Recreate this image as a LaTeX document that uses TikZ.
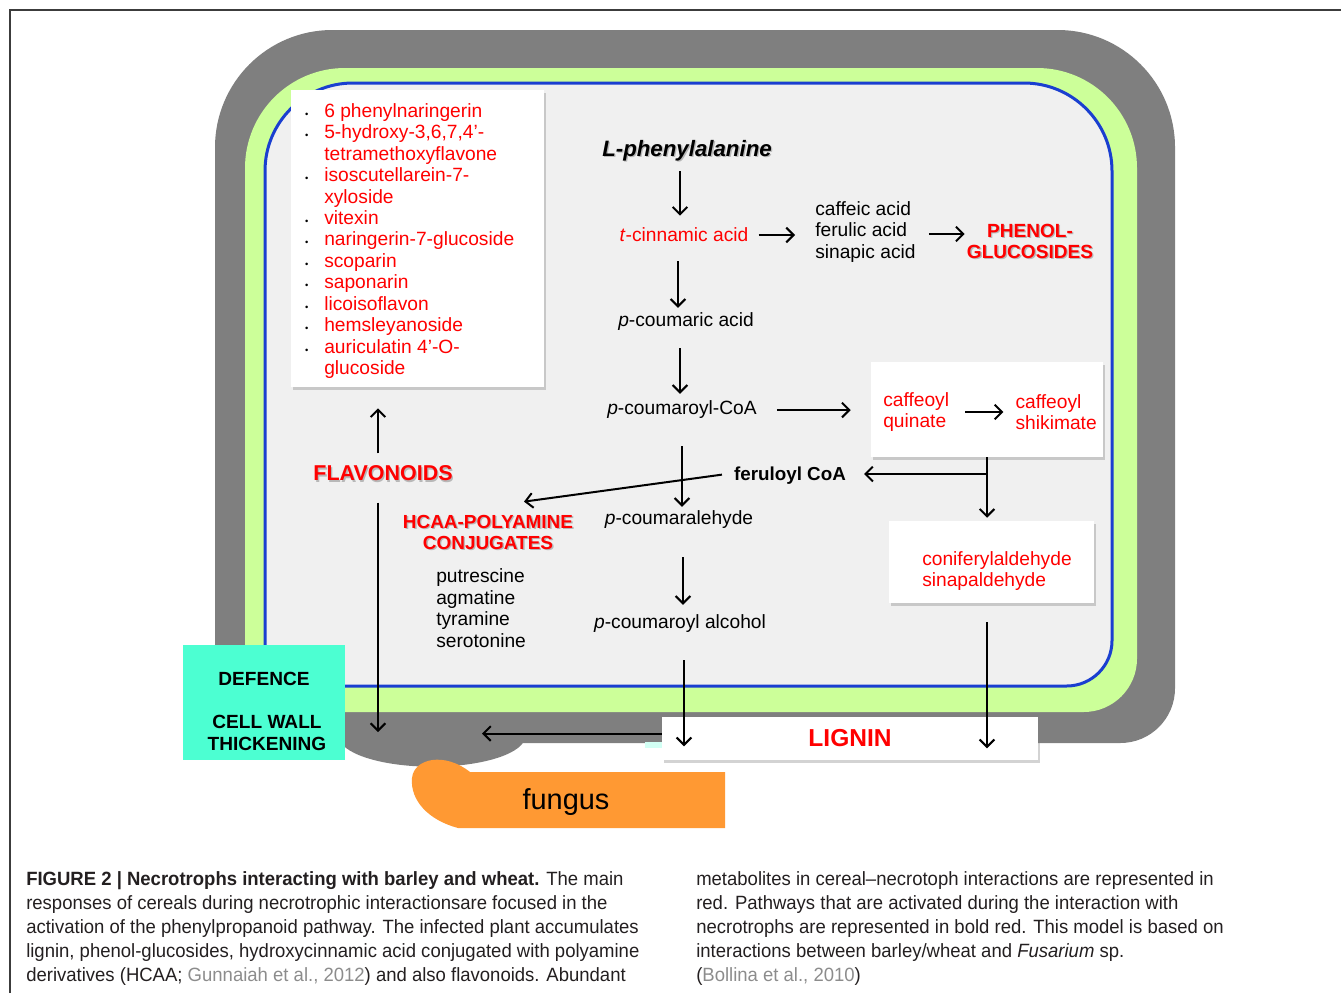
\documentclass[tikz,border=0pt]{standalone}
\usepackage{fontspec}
\setmainfont{Liberation Sans}
\newfontfamily\capfont[FakeStretch=0.964]{Liberation Sans}
\usetikzlibrary{arrows.meta,shadows,shapes.geometric,positioning,calc}

\definecolor{wallgray}{HTML}{7F7F7F}
\definecolor{wallgreen}{HTML}{CCFF99}
\definecolor{membblue}{HTML}{1A3FD0}
\definecolor{cytofill}{HTML}{F0F0F0}
\definecolor{defteal}{HTML}{4CFFD2}
\definecolor{fungorange}{HTML}{FF9933}
\definecolor{citegray}{HTML}{8C8C8C}
\definecolor{captext}{HTML}{231F20}
\definecolor{frameline}{HTML}{3C3C3C}

\newcommand{\txtsh}[1]{\rlap{\raisebox{-1pt}{\hspace{1pt}\textcolor{black!28}{#1}}}#1}
\newcommand{\blt}{\llap{\textcolor{black}{\fontsize{7}{7}\selectfont\textbullet}\hspace{12pt}}}

\tikzset{
	met/.style={inner sep=0pt, font=\fontsize{14.4}{16.1}\selectfont, align=left},
	redmet/.style={met, text=red},
	bigred/.style={inner sep=0pt, text=red, font=\bfseries\fontsize{14.3}{16.1}\selectfont, align=center},
	whitebox/.style={fill=white, inner sep=0pt, drop shadow={shadow xshift=1.5pt, shadow yshift=-2pt, opacity=0.35}},
	arr/.style={line width=1.5pt, -{Straight Barb[length=5.5pt,width=11pt]}},
}

\begin{document}
\begin{tikzpicture}[x=0.75pt,y=-0.75pt]
		\useasboundingbox (0,0) rectangle (1341,993);
		\draw[frameline, line width=1.2pt] (10,993) -- (10,10) -- (1341,10);
		%
		% cell wall, wall layer and membrane
		\fill[wallgray, rounded corners=88pt] (215,400) -- (215,30) -- (1175,30) -- (1175,400) [rounded corners=41pt] -- (1175,743) -- (215,743) -- cycle;
		\node[ellipse, fill=wallgray, minimum width=140pt, minimum height=46pt] (blob) at (432,736) {};
		\fill[wallgreen, rounded corners=75pt] (245,400) -- (245,68) -- (1137,68) -- (1137,400) [rounded corners=40pt] -- (1137,712) -- (245,712) -- cycle;
		\filldraw[fill=cytofill, draw=membblue, line width=2.25pt, rounded corners=66pt] (265,400) -- (265,83) -- (1112,83) -- (1112,400) [rounded corners=34pt] -- (1112,686) -- (265,686) -- cycle;
		%
		% defence and fungus
		\node[fill=defteal, minimum width=121.5pt, minimum height=86.25pt, inner sep=0pt] (defbox) at (264,702.5) {};
		\node[inner sep=0pt, font=\bfseries\fontsize{14.3}{16}\selectfont] (defence) at (264,679) {DEFENCE};
		\node[inner sep=0pt, align=center, font=\bfseries\fontsize{14.3}{16}\selectfont] (thick) at (267,733) {CELL WALL\\THICKENING};
		\fill[defteal!25] (645,742) rectangle (662,748);
		\node[whitebox, minimum width=282pt, minimum height=32.25pt, text=red, font=\bfseries\fontsize{18.4}{20}\selectfont] (lignin) at (850,738.5) {LIGNIN};
		\fill[fungorange] (470,772) -- (725,772) -- (725,828) -- (458,828) .. controls (428,820) and (410,800) .. (412,778) .. controls (414,758) and (445,752) .. (470,772) -- cycle;
		\node[inner sep=0pt, font=\fontsize{21.7}{24}\selectfont] (fungus) at (566,802) {fungus};
		%
		% flavonoids
		\node[whitebox, minimum width=189.75pt, minimum height=222.75pt] (flavbox) at (417.5,238.5) {};
		\node[redmet, anchor=north west] (flavlist) at (324,103) {\blt 6 phenylnaringerin\\\blt 5-hydroxy-3,6,7,4'-\\tetramethoxyflavone\\\blt isoscutellarein-7-\\xyloside\\\blt vitexin\\\blt naringerin-7-glucoside\\\blt scoparin\\\blt saponarin\\\blt licoisoflavon\\\blt hemsleyanoside\\\blt auriculatin 4'-O-\\glucoside};
		\node[bigred, font=\bfseries\fontsize{16.1}{18}\selectfont] (flav) at (383,474) {\txtsh{FLAVONOIDS}};
		%
		% phenylpropanoid pathway
		\node[met, font=\bfseries\itshape\fontsize{16.7}{18}\selectfont] (lphe) at (687,151) {\txtsh{L-phenylalanine}};
		\node[redmet] (tcin) at (684,235) {\textit{t}-cinnamic acid};
		\node[met, anchor=west] (acids) at (815,232) {caffeic acid\\ferulic acid\\sinapic acid};
		\node[bigred] (phenol) at (1030,242) {\txtsh{PHENOL-}\\\txtsh{GLUCOSIDES}};
		\node[met] (pcouac) at (686,322) {\textit{p}-coumaric acid};
		\node[met] (pcoucoa) at (682,410) {\textit{p}-coumaroyl-CoA};
		\node[whitebox, minimum width=174pt, minimum height=71.25pt] (caffbox) at (987,409.5) {};
		\node[redmet, anchor=west] (cquin) at (883,412) {caffeoyl\\quinate};
		\node[redmet, right=49.5pt of cquin] (cshik) {caffeoyl\\shikimate};
		\node[met, font=\bfseries\fontsize{14.1}{16}\selectfont] (ferul) at (790,476) {feruloyl CoA};
		\node[met] (pcoual) at (679,520) {\textit{p}-coumaralehyde};
		\node[bigred, font=\bfseries\fontsize{14.2}{16.1}\selectfont] (hcaa) at (488,533) {\txtsh{HCAA-POLYAMINE}\\\txtsh{CONJUGATES}};
		\node[met, anchor=west] (amines) at (436,608) {putrescine\\agmatine\\tyramine\\serotonine};
		\node[met] (pcoualc) at (680,624) {\textit{p}-coumaroyl alcohol};
		\node[whitebox, minimum width=153.75pt, minimum height=61.5pt] (conbox) at (991.5,562) {};
		\node[redmet, anchor=west] (conif) at (922,571) {coniferylaldehyde\\sinapaldehyde};
		%
		\draw[arr, shorten <=6.75pt, shorten >=9pt] ($(lphe.south)+(-7,0)$) -- ($(lphe.south |- tcin.north)+(-7,0)$);
		\draw[arr, shorten <=14.25pt, shorten >=3.75pt] ($(tcin.south)+(-6,0)$) -- ($(tcin.south |- pcouac.north)+(-6,0)$);
		\draw[arr, shorten <=12.75pt, shorten >=5.25pt] ($(pcouac.south)+(-6,0)$) -- ($(pcouac.south |- pcoucoa.north)+(-6,0)$);
		\draw[arr, shorten <=7.5pt, shorten >=15pt] (tcin.east) -- (tcin.east -| acids.west);
		\draw[arr, shorten <=9.75pt, shorten >=1.5pt] ($(acids.east)+(0,2)$) -- ($(acids.east -| phenol.west)+(0,2)$);
		\draw[arr, shorten <=15pt, shorten >=15pt] (pcoucoa.east) -- (pcoucoa.east -| caffbox.west);
		\draw[arr, shorten <=12pt, shorten >=9pt] (cquin.east) -- (cshik.west);
		\draw[arr, shorten >=2.25pt] (caffbox.south) -- (caffbox.south |- conbox.north);
		\draw[arr, shorten >=13.5pt] ($(caffbox.south |- ferul)+(0,-2)$) -- ($(ferul.east)+(0,-2)$);
		\draw[arr, shorten <=9pt] ($(ferul.west)+(0,-3)$) -- ([xshift=27pt, yshift=9.75pt]hcaa.north);
		\draw[arr, shorten <=20.25pt, shorten >=3pt] (pcoucoa.south) -- (pcoucoa.south |- pcoual.north);
		\draw[arr, shorten <=21pt, shorten >=7.5pt] ($(pcoual.south)+(4,0)$) -- ($(pcoual.south |- pcoualc.north)+(4,0)$);
		\draw[arr, shorten <=20.25pt, shorten >=10.5pt] ($(pcoualc.south)+(4,0)$) -- ($(pcoualc.south |- lignin.south)+(4,0)$);
		\draw[arr, shorten <=14.25pt, shorten >=9pt] ($(conbox.south)+(-4.5,0)$) -- ($(conbox.south |- lignin.south)+(-4.5,0)$);
		\draw[arr, shorten <=9pt, shorten >=15.75pt] ($(flav.north)+(-5,0)$) -- ($(flav.north |- flavbox.south)+(-5,0)$);
		\draw[arr, shorten <=15pt, shorten >=3pt] ($(flav.south)+(-5,0)$) -- ($(flav.south |- blob)+(-5,0)$);
		\draw[arr, shorten >=37.5pt] ($(lignin.west)+(0,-5)$) -- ($(lignin.west -| blob)+(0,-5)$);
		%
		% caption
		\node[anchor=north west, inner sep=0pt, align=left, text=captext, font=\capfont\fontsize{14.4}{18}\selectfont] (capleft) at (26,871) {\textbf{FIGURE 2 | Necrotrophs interacting with barley and wheat.} The main\\responses of cereals during necrotrophic interactionsare focused in the\\activation of the phenylpropanoid pathway. The infected plant accumulates\\lignin, phenol-glucosides, hydroxycinnamic acid conjugated with polyamine\\derivatives (HCAA; \textcolor{citegray}{Gunnaiah et al., 2012}) and also flavonoids. Abundant};
		\node[anchor=north west, inner sep=0pt, align=left, text=captext, font=\capfont\fontsize{14.4}{18}\selectfont] (capright) at (696,871) {metabolites in cereal–necrotoph interactions are represented in\\red. Pathways that are activated during the interaction with\\necrotrophs are represented in bold red. This model is based on\\interactions between barley/wheat and \textit{Fusarium} sp.\\(\textcolor{citegray}{Bollina et al., 2010})};
\end{tikzpicture}
\end{document}
